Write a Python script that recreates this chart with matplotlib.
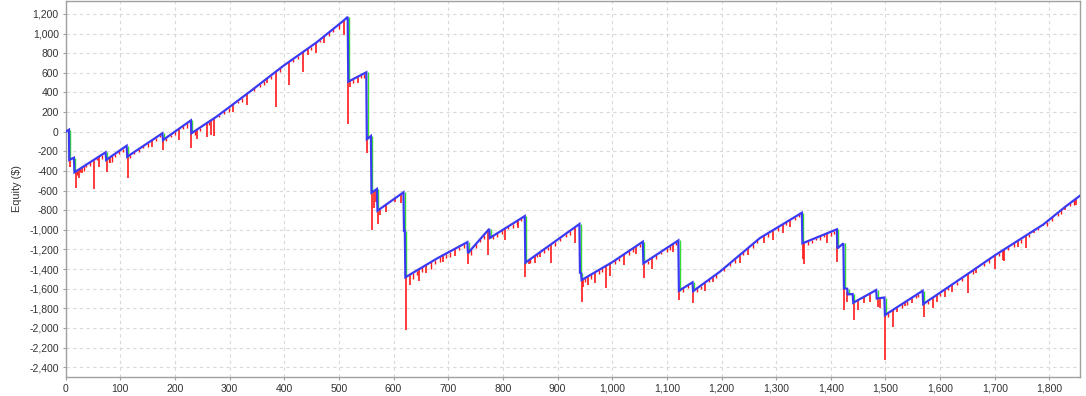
"""Equity curve chart: closed equity (blue), intra-trade drawdown (red), drops (green)"""
import matplotlib
matplotlib.use('Agg')
import matplotlib.pyplot as plt
from matplotlib.ticker import FuncFormatter, MultipleLocator
import numpy as np

plt.rcParams['font.family'] = ['Liberation Sans', 'DejaVu Sans']

# ── data ─────────────────────────────────────────────────
# closed-trade equity, breakpoints of the curve
eq_x = [0, 6, 6.5, 15, 16, 73, 74, 111.5, 112.5, 177, 178, 229, 230,
        276, 337, 398, 459, 508, 516, 517, 550, 551, 558.5, 559.5,
        569.5, 570.5, 618, 619, 620.5, 621.5, 680, 735, 736, 775, 776,
        840, 841, 940, 941, 943, 944, 1000, 1056, 1057, 1121, 1122,
        1147, 1148, 1197, 1270, 1347, 1348, 1411, 1412, 1423, 1424,
        1430, 1431, 1440, 1441, 1483, 1484, 1498, 1499, 1568, 1569,
        1652, 1701, 1789, 1829, 1856]
eq_y = [0, 20, -288, -265, -414, -210, -288, -143, -255, -16, -85, 115, -16,
        153, 408, 670, 910, 1130, 1170, 510, 605, -75, -44, -621,
        -584, -805, -618, -1009, -1009, -1484, -1290, -1125, -1237, -990, -1083,
        -860, -1335, -941, -1437, -1440, -1512, -1330, -1121, -1342, -1108, -1621,
        -1535, -1625, -1427, -1085, -826, -1138, -995, -1189, -1138, -1597,
        -1600, -1658, -1655, -1743, -1614, -1700, -1690, -1869, -1621, -1757,
        -1444, -1257, -945, -765, -652]

# large intra-trade drawdowns: trade number and lowest equity
spike_x = [7, 18.3, 24.3, 29, 51.8, 61.5, 75, 81.6, 113.5, 157, 178.6, 207,
           229, 240, 258, 266, 271, 307, 331, 369, 385, 408, 434, 443, 458,
           473, 509, 517, 520, 534, 551, 560, 565, 567, 571, 575, 586, 603,
           613, 622, 630, 647, 660, 690, 713, 737, 773, 804, 828, 841, 847,
           859, 868, 888, 931, 944, 946, 956.5, 969, 989, 996, 1021, 1044,
           1058, 1072, 1111, 1123, 1148.6, 1170, 1184, 1234, 1249, 1277,
           1295, 1313, 1326, 1349, 1351, 1393, 1411, 1424, 1430.5, 1443,
           1450.6, 1461, 1471, 1485.6, 1490.7, 1500, 1513, 1522, 1536, 1548,
           1569.6, 1587, 1595, 1609, 1621, 1650.8, 1665, 1701, 1715, 1717,
           1743, 1757, 1771, 1789, 1829, 1849]
spike_low = [-357, -571, -475, -420, -584, -357, -414, -322, -475, -153, -186, -85,
             -170, -70, -51, -34, -44, 204, 272, 493, 255, 476, 612, 782, 799,
             900, 985, 75, 459, 500, -214, -1002, -781, -720, -944, -849, -815, -713,
             -724, -2021, -1563, -1520, -1440, -1330, -1270, -1350, -1257, -1100, -980, -1478, -1345,
             -1342, -1274, -1342, -1138, -1733, -1580, -1563, -1545, -1597, -1470, -1359, -1250,
             -1490, -1400, -1223, -1716, -1750, -1620, -1529, -1342, -1257, -1138,
             -1104, -1036, -968, -1300, -1352, -1138, -1325, -1818, -1733, -1920,
             -1818, -1750, -1733, -1784, -1800, -2327, -1988, -1835, -1780, -1750,
             -1886, -1800, -1739, -1682, -1631, -1641, -1437, -1403, -1308, -1320,
             -1172, -1189, -1036, -960, -800, -747]

# small intra-trade drawdowns: trade number and depth below equity
tick_x = [20, 26, 33, 38, 44, 57, 66, 79, 85, 90, 97, 104, 118, 125, 135, 142,
          150, 165, 172, 184, 192, 200, 215, 222, 236, 245, 262, 280, 290, 298,
          315, 322, 345, 355, 362, 375, 392, 415, 425, 448, 465, 482, 490, 500,
          525, 540, 545, 635, 642, 652, 668, 675, 685, 695, 703, 720, 728,
          742, 750, 758, 765, 782, 790, 798, 810, 818, 826, 834, 850, 862, 875,
          882, 895, 905, 915, 922, 950, 962, 975, 982, 1005, 1012, 1030, 1038,
          1050, 1065, 1080, 1090, 1100, 1105, 1116, 1130, 1138, 1155, 1162, 1178,
          1190, 1205, 1215, 1225, 1240, 1258, 1265, 1285, 1303, 1318, 1335, 1342,
          1358, 1365, 1372, 1380, 1388, 1400, 1405, 1505, 1530, 1540, 1555, 1560,
          1578, 1600, 1615, 1630, 1640, 1660, 1680, 1690, 1708, 1725, 1735, 1748,
          1762, 1780, 1795, 1805, 1815, 1822, 1838, 1845]
tick_dd = [40, 30, 50, 25, 35, 20, 45, 40, 60, 30, 25, 35, 30, 20, 35, 25,
           40, 30, 20, 30, 25, 40, 30, 50, 40, 30, 35, 25, 30, 40,
           25, 45, 30, 25, 40, 30, 35, 30, 40, 30, 25, 40, 30, 45,
           35, 30, 40, 60, 40, 50, 70, 40, 55, 45, 60, 40, 35,
           60, 40, 30, 45, 30, 40, 35, 30, 45, 40, 30, 40, 30, 35,
           30, 40, 30, 35, 40, 40, 45, 35, 40, 35, 30, 40, 35,
           30, 40, 35, 30, 40, 35, 30, 40, 30, 40, 35, 30,
           40, 35, 30, 45, 35, 40, 30, 35, 40, 30, 35, 30,
           40, 30, 25, 35, 30, 40, 30, 40, 35, 40, 30, 35,
           30, 35, 30, 40, 30, 35, 30, 40, 35, 30, 40, 45,
           35, 30, 40, 35, 30, 40, 35, 50]

BLUE = '#3a3af5'
RED = '#ff1a1a'
GREEN = '#33dd33'
GRID = '#d9d9d9'
AXIS = '#a0a0a0'

# ── plot ──────────────────────────────────────────────
fig = plt.figure(figsize=(10.86, 3.96), dpi=100)
ax = fig.add_axes([0.0605, 0.0487, 0.934, 0.9488])

ex = np.array(eq_x, dtype=float)
ey = np.array(eq_y, dtype=float)

# red drawdown spikes hang from the equity curve
sx = np.array(spike_x, dtype=float)
ax.vlines(sx, spike_low, np.interp(sx, ex, ey), color=RED, lw=1.2, zorder=2)
tx = np.array(tick_x, dtype=float)
t_top = np.interp(tx, ex, ey)
ax.vlines(tx, t_top - np.array(tick_dd), t_top, color=RED, lw=1.0, zorder=2)

# green marks on each losing drop
drops = np.where(np.diff(ey) < -20)[0]
for i in drops:
    ax.vlines(ex[i + 1] + 1.6, ey[i + 1], ey[i], color=GREEN, lw=1.0, zorder=3)

ax.plot(ex, ey, color=BLUE, lw=1.6, zorder=4, solid_joinstyle='miter')

ax.set_xlim(0, 1856)
ax.set_ylim(-2497, 1332)
ax.xaxis.set_major_locator(MultipleLocator(100))
ax.yaxis.set_major_locator(MultipleLocator(200))
fmt = FuncFormatter(lambda v, p: f'{int(round(v)):,}')
ax.xaxis.set_major_formatter(fmt)
ax.yaxis.set_major_formatter(fmt)

ax.grid(True, color=GRID, lw=0.8, ls=(0, (3, 3)))
ax.set_axisbelow(True)
for spine in ax.spines.values():
    spine.set_edgecolor(AXIS)
    spine.set_linewidth(1.0)
ax.tick_params(direction='out', length=2.5, width=0.8, color=AXIS,
               labelsize=7.5, labelcolor='#333333', pad=2.5)
ax.set_ylabel('Equity ($)', fontsize=7.8, color='#333333', labelpad=5)

plt.savefig('out.png', dpi=100)
